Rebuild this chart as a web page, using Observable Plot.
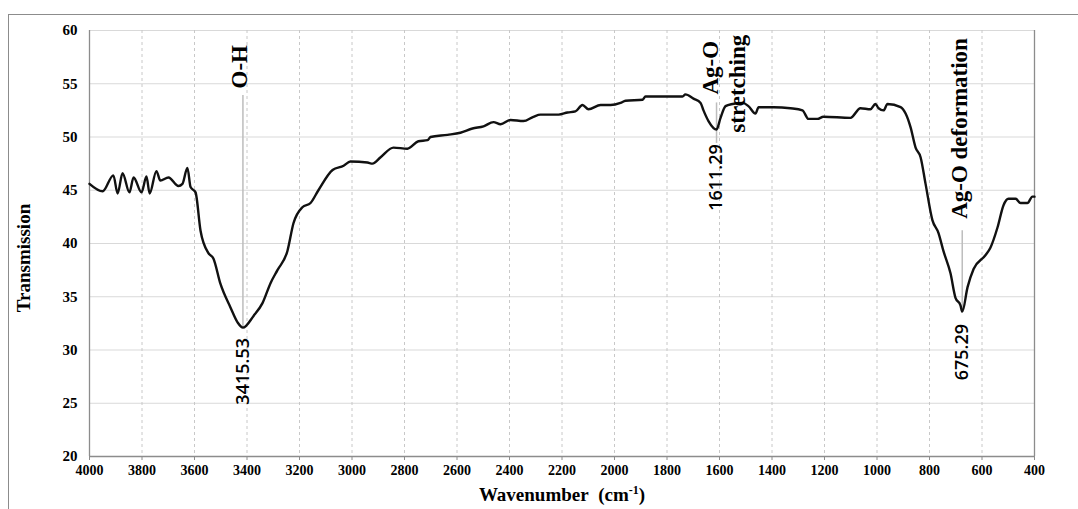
<!DOCTYPE html>
<html><head><meta charset="utf-8">
<script src="https://cdn.jsdelivr.net/npm/d3@7"></script>
<script src="https://cdn.jsdelivr.net/npm/@observablehq/plot@0.6"></script>
<style>
body{margin:0;background:#fff;}
#wrap{position:relative;width:1078px;height:509px;overflow:hidden;}
#frame{position:absolute;left:8px;top:14px;width:1100px;height:520px;border:1px solid #8c8c8c;box-sizing:border-box;pointer-events:none}
</style></head><body><div id="wrap"><div id="frame"></div></div>
<script>
const wavenumber = [4000,3950,3909,3893,3874,3848,3832,3802,3783,3771,3745,3730,3699,3661,3646,3627,3615,3596,3577,3547,3528,3501,3463,3436,3415.53,3375,3341,3310,3284,3246,3223,3189,3158,3128,3074,3032,3006,2941,2922,2891,2842,2789,2747,2712,2701,2636,2587,2541,2499,2461,2434,2396,2347,2309,2282,2213,2179,2149,2122,2099,2053,2015,1977,1958,1893,1882,1741,1730,1699,1672,1661,1642,1611.29,1596,1577,1550,1512,1490,1463,1451,1394,1330,1284,1261,1227,1204,1101,1063,1025,1006,994,975,960,910,891,872,853,834,815,789,766,747,720,701,682,675.29,655,632,587,568,541,518,499,472,453,427,408,400];
const transmission = [45.6,44.9,46.4,44.7,46.6,44.8,46.2,44.8,46.3,44.7,46.8,45.9,46.2,45.4,45.6,47.1,45.3,44.8,41.2,39.1,38.6,36.2,34.0,32.6,32.1,33.2,34.4,36.3,37.5,39.3,41.9,43.4,43.8,45.0,46.9,47.3,47.7,47.6,47.5,48.1,49.0,48.9,49.6,49.7,50.0,50.2,50.4,50.8,51.0,51.4,51.2,51.6,51.5,51.9,52.1,52.1,52.3,52.4,53.0,52.6,53.0,53.0,53.2,53.4,53.5,53.8,53.8,54.0,53.6,53.2,52.5,51.5,50.7,51.8,52.9,53.1,53.2,52.9,52.2,52.8,52.8,52.7,52.5,51.7,51.7,51.9,51.8,52.7,52.6,53.1,52.7,52.5,53.1,52.8,52.2,50.9,49.0,48.1,45.6,42.2,41.0,39.3,37.2,34.9,34.2,33.6,35.9,37.6,38.9,39.6,41.5,43.6,44.2,44.2,43.8,43.8,44.4,44.4];
const xTicks = [4000,3800,3600,3400,3200,3000,2800,2600,2400,2200,2000,1800,1600,1400,1200,1000,800,600,400];
const yTicks = [20,25,30,35,40,45,50,55,60];
const peakWavenumbers = [3415.53, 1611.29, 675.29];
const peakLabels = ["3415.53", "1611.29", "675.29"];
const bandLabels = ["O-H", "Ag-O", "stretching", "Ag-O deformation"];
const bandWavenumbers = [3415.53, 1611.29, 1611.29, 675.29];

const spectrum = wavenumber.map((w, i) => ({w, t: transmission[i]}));
const connTop = [53.9, 53.2, 41.2];
const connBot = [32.1, 49.4, 33.6];
const peakLabelY = [28.0, 46.2, 29.8];
const conns = peakWavenumbers.map((w, i) => ({w, y1: connTop[i], y2: connBot[i], y: peakLabelY[i], label: peakLabels[i]}));
const bandY = [56.6, 56.5, 55.0, 50.8];
const bandDx = [-3, -6, 21, -3];
const bandFont = {rotate: -90, fontSize: 23, fontFamily: "'Liberation Serif', serif", fontWeight: "bold", fill: "#000"};
const bandMarks = bandLabels.map((s, i) =>
  Plot.text([{w: bandWavenumbers[i], y: bandY[i], s}], {x: "w", y: "y", text: "s", dx: bandDx[i], ...bandFont}));

const chart = Plot.plot({
  width: 1078,
  height: 509,
  marginLeft: 89,
  marginRight: 44,
  marginTop: 30,
  marginBottom: 53,
  style: {fontFamily: "'Liberation Serif', 'Times New Roman', serif", fontWeight: "bold", fontSize: "14px", color: "#000", background: "transparent"},
  x: {domain: [4000, 400], ticks: xTicks, tickFormat: d => String(d), tickSize: 4, tickPadding: 5, label: null},
  y: {domain: [20, 60], ticks: yTicks, tickSize: 0, tickPadding: 12, label: null},
  marks: [
    Plot.gridY(yTicks, {stroke: "#d9d9d9", strokeOpacity: 1, strokeWidth: 1}),
    Plot.gridX(xTicks.slice(1, -1), {stroke: "#c8c8c8", strokeOpacity: 1, strokeDasharray: "3,3"}),
    Plot.ruleX([4000, 400], {stroke: "#8c8c8c", strokeWidth: 1.3}),
    Plot.ruleY([20], {stroke: "#8c8c8c", strokeWidth: 1.3}),
    Plot.axisY({ticks: yTicks, tickSize: 0, tickPadding: 12, fontSize: 15, label: null}),
    Plot.axisX({ticks: xTicks, tickFormat: d => String(d), tickSize: 4, tickPadding: 5, fontSize: 14, stroke: "#8c8c8c", label: null}),
    Plot.ruleX(conns, {x: "w", y1: "y1", y2: "y2", stroke: "#bdbdbd", strokeWidth: 1.5}),
    Plot.line(spectrum, {x: "w", y: "t", stroke: "#111", strokeWidth: 2.4, curve: "monotone-x"}),
    Plot.text(conns, {x: "w", y: "y", text: "label", rotate: -90, fontSize: 18, fontFamily: "'Open Sans', sans-serif", fontWeight: 600, fill: "#000"}),
    ...bandMarks
  ]
});
document.getElementById("wrap").prepend(chart);
chart.style.position = "absolute";
chart.style.left = "0px";
chart.style.top = "0px";

const svg = d3.select(chart);
svg.append("text")
  .attr("transform", "translate(26,258) rotate(-90)")
  .attr("text-anchor", "middle")
  .attr("dominant-baseline", "middle")
  .style("font-family", "'Liberation Serif', serif")
  .style("font-weight", "bold")
  .style("font-size", "19px")
  .text("Transmission");
const xt = svg.append("text")
  .attr("x", 562).attr("y", 501)
  .attr("text-anchor", "middle")
  .style("font-family", "'Liberation Serif', serif")
  .style("font-weight", "bold")
  .style("font-size", "19px");
xt.append("tspan").text("Wavenumber\u00a0\u00a0(cm");
xt.append("tspan").attr("dy", "-7").style("font-size", "12px").text("-1");
xt.append("tspan").attr("dy", "7").text(")");
</script>
</body></html>
